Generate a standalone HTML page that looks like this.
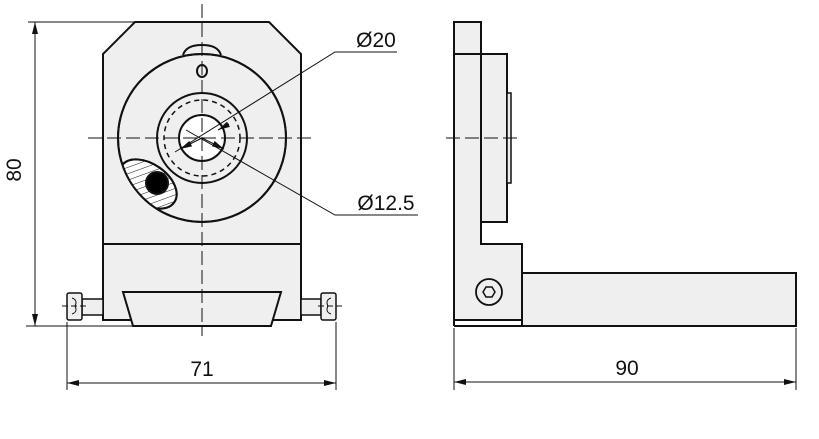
<!DOCTYPE html>
<html><head><style>html,body{margin:0;padding:0;background:#fff}svg{display:block}text{font-family:"Liberation Sans",sans-serif;font-size:21px;fill:#111}</style></head>
<body>
<svg width="819" height="439" viewBox="0 0 819 439" xmlns="http://www.w3.org/2000/svg">
<defs>
<marker id="a" viewBox="0 0 12 6" refX="12" refY="3" markerWidth="12" markerHeight="6" orient="auto-start-reverse" markerUnits="userSpaceOnUse"><path d="M0,0 L12,3 L0,6z" fill="#111"/></marker>
<pattern id="h" width="6" height="6" patternUnits="userSpaceOnUse" patternTransform="rotate(35)"><line x1="0" y1="0" x2="0" y2="6" stroke="#111" stroke-width="1"/></pattern>
<clipPath id="oc"><circle cx="202" cy="138" r="84"/></clipPath>
</defs>
<g stroke="#111" stroke-width="2" fill="#efefef">
<!-- front view -->
<path d="M135,22 L269,22 L301,54 L301,244 L103,244 L103,54 Z"/>
<rect x="103" y="244" width="198" height="76"/>
<path d="M123,292 L281,292 L271,326 L133,326 Z"/>
<rect x="82" y="299" width="21" height="16" stroke-width="1.5"/>
<rect x="301" y="299" width="20" height="16" stroke-width="1.5"/>
<rect x="67" y="293" width="15" height="27" rx="2" stroke-width="1.5"/>
<rect x="321" y="293" width="15" height="27" rx="2" stroke-width="1.5"/>
<path d="M183,55 Q186,45 202,45 Q218,45 221,55" fill="#efefef"/>
<circle cx="202" cy="138" r="84"/>
<ellipse cx="202" cy="71" rx="5" ry="6" fill="none"/>
<circle cx="202" cy="138" r="45"/>
<circle cx="202" cy="138" r="38" fill="none" stroke-width="1.5" stroke-dasharray="5,4"/>
<circle cx="202" cy="138" r="23" fill="#fff"/>
<g clip-path="url(#oc)">
<ellipse cx="148" cy="184" rx="32" ry="20" transform="rotate(35 148 184)" fill="#fff"/>
<ellipse cx="148" cy="184" rx="32" ry="20" transform="rotate(35 148 184)" fill="url(#h)" stroke="none"/>
<ellipse cx="148" cy="184" rx="32" ry="20" transform="rotate(35 148 184)" fill="none"/>
</g>
<circle cx="202" cy="138" r="84" fill="none"/>
<circle cx="157" cy="183" r="11" fill="#000"/>
<!-- side view -->
<rect x="454" y="22" width="27" height="32"/>
<path d="M454,54 L481,54 L481,244 L522,244 L522,320 L454,320 Z"/>
<rect x="481" y="54" width="26" height="168"/>
<rect x="507" y="93" width="4" height="90" stroke-width="1.5"/>
<rect x="522" y="273" width="274" height="53"/>
<line x1="454" y1="326" x2="522" y2="326"/>
<line x1="454" y1="320" x2="454" y2="326"/>
<circle cx="489" cy="292" r="13" fill="none" stroke-width="1.8"/>
<path d="M483,292 L486,287 L492,287 L495,292 L492,297 L486,297 Z" fill="none" stroke-width="1.5"/>
</g>
<g stroke="#111" stroke-width="1" fill="none">
<line x1="202" y1="4" x2="202" y2="336" stroke-dasharray="14,5"/>
<line x1="88" y1="138" x2="312" y2="138" stroke-dasharray="14,5"/>
<line x1="446" y1="138" x2="522" y2="138" stroke-dasharray="14,5"/>
<line x1="62" y1="306" x2="86" y2="306" stroke-dasharray="6,3"/>
<line x1="318" y1="306" x2="342" y2="306" stroke-dasharray="6,3"/>
<path d="M72,298 Q78,300 75,306 Q78,312 72,314"/>
<path d="M331,298 Q325,300 328,306 Q325,312 331,314"/>
<!-- leaders -->
<polyline points="175,152 335,52 397,52"/>
<polyline points="229,124 218,130" marker-end="url(#a)"/>
<line x1="202" y1="138" x2="180" y2="149" marker-end="url(#a)"/>
<polyline points="186,130 335,215 418,215"/>
<line x1="202" y1="138" x2="224" y2="149" marker-end="url(#a)"/>
<!-- dims -->
<line x1="28" y1="22" x2="135" y2="22"/>
<line x1="26" y1="326" x2="133" y2="326"/>
<line x1="35" y1="22" x2="35" y2="326" marker-start="url(#a)" marker-end="url(#a)"/>
<line x1="67" y1="322" x2="67" y2="390"/>
<line x1="336" y1="322" x2="336" y2="390"/>
<line x1="67" y1="383" x2="336" y2="383" marker-start="url(#a)" marker-end="url(#a)"/>
<line x1="454" y1="328" x2="454" y2="390"/>
<line x1="796" y1="328" x2="796" y2="390"/>
<line x1="454" y1="382" x2="796" y2="382" marker-start="url(#a)" marker-end="url(#a)"/>
</g>
<text x="376" y="47" text-anchor="middle" font-size="22">Ø20</text>
<text x="386" y="210" text-anchor="middle" font-size="22">Ø12.5</text>
<text x="202" y="376" text-anchor="middle" font-size="22">71</text>
<text x="627" y="375" text-anchor="middle" font-size="22">90</text>
<text transform="translate(21,170) rotate(-90)" text-anchor="middle" font-size="22">80</text>
</svg>
</body></html>
